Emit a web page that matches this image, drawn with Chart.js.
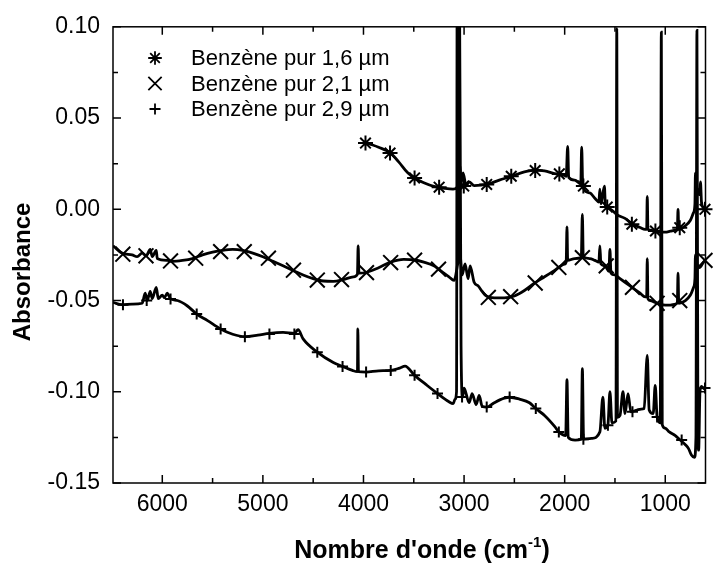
<!DOCTYPE html>
<html>
<head>
<meta charset="utf-8">
<script src="https://cdn.jsdelivr.net/npm/chart.js@4/dist/chart.umd.min.js"></script>
<style>
  html, body { margin: 0; padding: 0; background: #fff; }
  #wrap { width: 718px; height: 563px; position: relative; }
</style>
</head>
<body>
<div id="wrap"><canvas id="spectre"></canvas></div>
<script>
// Benzène pur 1,6 µm
const wn16 = [4000, 3950, 3850, 3736, 3650, 3560, 3490, 3400, 3300, 3200,
  3110, 3070, 3040, 3030, 3010, 2980, 2950, 2900, 2775, 2650,
  2531, 2400, 2293, 2200, 2100, 2000, 1985, 1970, 1960, 1900,
  1840, 1831, 1820, 1750, 1700, 1660, 1650, 1640, 1605, 1595,
  1560, 1520, 1480, 1400, 1330, 1250, 1200, 1185, 1179, 1172,
  1150, 1100, 1060, 1000, 950, 900, 880, 873, 866, 800,
  750, 720, 705, 700, 695, 690, 660, 650, 640, 620,
  600];
const abs16 = [0.037, 0.036, 0.034, 0.031, 0.026, 0.020, 0.017, 0.0145, 0.0125, 0.0115,
  0.011, 0.012, 0.024, 0.014, 0.020, 0.013, 0.015, 0.013, 0.0136, 0.016,
  0.018, 0.0205, 0.0215, 0.021, 0.0195, 0.0185, 0.018, 0.0345, 0.0175, 0.016,
  0.014, 0.034, 0.0125, 0.009, 0.006, 0.004, 0.011, 0.003, 0.0127, 0.002,
  0.0005, -0.001, -0.003, -0.005, -0.008, -0.010, -0.011, -0.011, 0.007, -0.011,
  -0.0115, -0.012, -0.0125, -0.0125, -0.012, -0.0115, -0.011, 0.0, -0.011, -0.009,
  -0.006, -0.002, 0.003, 0.020, 0.004, 0.012, 0.008, 0.015, 0.004, 0.001,
  0.0];
const mk16Wn = [3980, 3736, 3492, 3248, 3003, 2775, 2531, 2293, 2053, 1814, 1577, 1332, 1098, 856, 605];
const mk16Abs = [0.0363, 0.0308, 0.0172, 0.0121, 0.0127, 0.0136, 0.0181, 0.0212, 0.0194, 0.0127, 0.0012, -0.0082, -0.0119, -0.0101, 0.0];

// Benzène pur 2,1 µm
const wn21 = [6490, 6400, 6300, 6250, 6200, 6160, 6120, 6100, 6060, 6050,
  5950, 5900, 5800, 5700, 5600, 5500, 5400, 5300, 5200, 5100,
  5000, 4900, 4800, 4700, 4600, 4500, 4400, 4300, 4200, 4100,
  4060, 4053, 4045, 3970, 3850, 3730, 3600, 3490, 3400, 3300,
  3250, 3150, 3100, 3040, 3020, 2990, 2960, 2940, 2900, 2860,
  2820, 2780, 2700, 2600, 2500, 2400, 2300, 2200, 2100, 2000,
  1985, 1977, 1970, 1900, 1835, 1824, 1815, 1750, 1700, 1660,
  1650, 1640, 1600, 1560, 1550, 1540, 1500, 1450, 1400, 1350,
  1300, 1250, 1200, 1185, 1179, 1172, 1150, 1100, 1050, 1000,
  950, 900, 880, 873, 866, 800, 750, 720, 705, 700,
  695, 690, 660, 620, 600];
const abs21 = [-0.020, -0.024, -0.025, -0.026, -0.024, -0.0255, -0.022, -0.026, -0.0225, -0.027,
  -0.028, -0.0285, -0.028, -0.027, -0.025, -0.0235, -0.0225, -0.022, -0.0225, -0.024,
  -0.026, -0.0285, -0.031, -0.0335, -0.036, -0.038, -0.0393, -0.0395, -0.0385, -0.037,
  -0.0355, -0.020, -0.035, -0.0345, -0.032, -0.029, -0.0275, -0.0278, -0.029, -0.031,
  -0.033, -0.037, -0.039, -0.025, -0.036, -0.030, -0.038, -0.031, -0.040, -0.042,
  -0.045, -0.0475, -0.0485, -0.0485, -0.0475, -0.0445, -0.0405, -0.037, -0.0335, -0.030,
  -0.029, -0.0097, -0.028, -0.027, -0.0265, -0.0028, -0.026, -0.027, -0.028, -0.029,
  -0.020, -0.030, -0.031, -0.034, -0.022, -0.035, -0.036, -0.038, -0.040, -0.042,
  -0.044, -0.046, -0.048, -0.048, -0.027, -0.049, -0.050, -0.051, -0.052, -0.0525,
  -0.0525, -0.052, -0.051, -0.035, -0.0515, -0.050, -0.047, -0.043, -0.038, -0.025,
  -0.036, -0.030, -0.032, -0.029, -0.028];
const mk21Wn = [6392, 6162, 5918, 5668, 5420, 5185, 4945, 4696, 4459, 4218, 3970, 3730, 3492, 3254,
  2759, 2537, 2293, 2058, 1824, 1587, 1326, 1081, 856, 605];
const mk21Abs = [-0.0246, -0.0255, -0.0283, -0.0268, -0.0232, -0.0232, -0.0268, -0.0334, -0.0388, -0.0385,
  -0.0347, -0.0292, -0.0279, -0.0328, -0.0483, -0.0479, -0.0404, -0.0319, -0.0265, -0.031,
  -0.0428, -0.0515, -0.050, -0.028];

// Benzène pur 2,9 µm
const wn29 = [6490, 6400, 6300, 6200, 6170, 6150, 6120, 6100, 6060, 6040,
  6000, 5980, 5950, 5920, 5850, 5750, 5658, 5550, 5420, 5300,
  5179, 5050, 4935, 4800, 4687, 4650, 4600, 4459, 4300, 4208,
  4110, 4060, 4056, 4050, 3974, 3850, 3729, 3640, 3587, 3492,
  3380, 3264, 3150, 3108, 3090, 3075, 3068, 3060, 3048, 3030,
  3015, 3000, 2950, 2920, 2880, 2850, 2820, 2775, 2700, 2600,
  2547, 2450, 2350, 2287, 2200, 2100, 2058, 1990, 1977, 1965,
  1896, 1835, 1824, 1812, 1732, 1650, 1620, 1600, 1570, 1550,
  1530, 1490, 1482, 1475, 1450, 1420, 1400, 1370, 1342, 1280,
  1240, 1210, 1179, 1160, 1120, 1100, 1081, 1050, 1039, 1030,
  1000, 960, 900, 860, 800, 770, 740, 710, 695, 685,
  676, 668, 655, 640, 620, 600];
const abs29 = [-0.051, -0.0523, -0.052, -0.0515, -0.046, -0.050, -0.045, -0.049, -0.0428, -0.049,
  -0.047, -0.0485, -0.046, -0.049, -0.050, -0.053, -0.0574, -0.061, -0.0656, -0.0685,
  -0.0698, -0.069, -0.068, -0.0675, -0.068, -0.066, -0.071, -0.0783, -0.084, -0.0861,
  -0.0883, -0.089, -0.0656, -0.089, -0.0892, -0.0885, -0.0883, -0.087, -0.086, -0.091,
  -0.096, -0.101, -0.1055, -0.1065, -0.104, -0.100, 0.15, -0.03, 0.15, -0.075,
  -0.103, -0.098, -0.106, -0.101, -0.107, -0.102, -0.108, -0.1084, -0.106, -0.1035,
  -0.103, -0.104, -0.106, -0.1092, -0.113, -0.119, -0.122, -0.124, -0.0934, -0.125,
  -0.1265, -0.126, -0.0874, -0.126, -0.1256, -0.122, -0.103, -0.120, -0.1183, -0.100,
  -0.117, -0.116, 0.099, -0.114, -0.113, -0.100, -0.112, -0.101, -0.111, -0.110,
  -0.1095, -0.1092, -0.0801, -0.110, -0.112, -0.0965, -0.1138, -0.117, 0.097, -0.118,
  -0.120, -0.122, -0.124, -0.126, -0.129, -0.131, -0.1347, -0.136, -0.125, 0.098,
  -0.11, -0.132, -0.100, -0.097, -0.098, -0.099];
const mk29Wn = [6391, 6155, 5918, 5658, 5420, 5179, 4935, 4687, 4459, 4208, 3974, 3729, 3492, 3264,
  3020, 2775, 2547, 2287, 2058, 1814, 1570, 1326, 1081, 837, 605];
const mk29Abs = [-0.0523, -0.050, -0.0492, -0.0574, -0.0656, -0.0698, -0.0683, -0.0683, -0.0783, -0.0861,
  -0.0892, -0.0883, -0.091, -0.101, -0.1029, -0.1084, -0.1029, -0.1092, -0.122, -0.126,
  -0.1183, -0.111, -0.1138, -0.1265, -0.098];

// axes
const xMajor = [6000, 5000, 4000, 3000, 2000, 1000];
const xMinor = [5500, 4500, 3500, 2500, 1500];
const yMajor = [-0.15, -0.10, -0.05, 0, 0.05, 0.10];
const yMinor = [-0.125, -0.075, -0.025, 0.025, 0.075];
const xTitle = ["Nombre d'onde (cm", "-1", ")"];
const yTitle = 'Absorbance';

const FONT = '"Liberation Sans", Arial, sans-serif';
const pts = (xs, ys) => xs.map((x, i) => ({ x: x, y: ys[i] }));

const lineSet = (xs, ys) => ({
  data: pts(xs, ys),
  borderColor: '#000',
  borderWidth: 2.8,
  pointRadius: 0,
  cubicInterpolationMode: 'monotone',
  clip: 0,
  isLine: true
});
const markSet = (label, xs, ys, style, r) => ({
  label: label,
  data: pts(xs, ys),
  showLine: false,
  pointStyle: style,
  pointRadius: r,
  pointBorderWidth: 2,
  pointBorderColor: '#000',
  pointBackgroundColor: 'rgba(0,0,0,0)',
  clip: false
});

// frame, inward ticks, axis titles and legend
const decor = {
  id: 'decor',
  afterDraw(chart) {
    const { ctx, chartArea: a, scales: { x, y } } = chart;
    ctx.save();
    ctx.strokeStyle = '#000';
    ctx.fillStyle = '#000';
    ctx.lineWidth = 1.5;
    ctx.strokeRect(a.left, a.top, a.right - a.left, a.bottom - a.top);

    ctx.beginPath();
    const xt = (v, len) => {
      const p = x.getPixelForValue(v);
      ctx.moveTo(p, a.bottom); ctx.lineTo(p, a.bottom - len);
      ctx.moveTo(p, a.top); ctx.lineTo(p, a.top + len);
    };
    const yt = (v, len) => {
      const p = y.getPixelForValue(v);
      ctx.moveTo(a.left, p); ctx.lineTo(a.left + len, p);
      ctx.moveTo(a.right, p); ctx.lineTo(a.right - len, p);
    };
    xMajor.forEach(v => xt(v, 8));
    xMinor.forEach(v => xt(v, 5));
    yMajor.forEach(v => yt(v, 8));
    yMinor.forEach(v => yt(v, 5));
    ctx.stroke();

    // y title
    ctx.save();
    ctx.font = 'bold 24px ' + FONT;
    ctx.textAlign = 'center';
    ctx.textBaseline = 'middle';
    ctx.translate(23, 272);
    ctx.rotate(-Math.PI / 2);
    ctx.fillText(yTitle, 0, 0);
    ctx.restore();

    // x title with superscript
    const big = 'bold 25px ' + FONT, small = 'bold 15px ' + FONT;
    ctx.textAlign = 'left';
    ctx.textBaseline = 'alphabetic';
    ctx.font = big;
    const w0 = ctx.measureText(xTitle[0]).width, w2 = ctx.measureText(xTitle[2]).width;
    ctx.font = small;
    const w1 = ctx.measureText(xTitle[1]).width;
    let tx = 422 - (w0 + w1 + w2) / 2;
    const base = 558;
    ctx.font = big; ctx.fillText(xTitle[0], tx, base); tx += w0;
    ctx.font = small; ctx.fillText(xTitle[1], tx, base - 11); tx += w1;
    ctx.font = big; ctx.fillText(xTitle[2], tx, base);

    // legend
    ctx.font = '22px ' + FONT;
    ctx.textBaseline = 'middle';
    const sizes = { star: 6.8, crossRot: 9.4, cross: 5.5 };
    let row = 0;
    chart.data.datasets.forEach(ds => {
      if (ds.isLine) return;
      const cy = 58 + row * 25.5;
      ctx.lineWidth = 1.8;
      Chart.helpers.drawPoint(ctx, { pointStyle: ds.pointStyle, rotation: 0, radius: sizes[ds.pointStyle], borderWidth: 1.8 }, 155, cy);
      ctx.fillText(ds.label, 191, cy + 1);
      row++;
    });
    ctx.restore();
  }
};

new Chart(document.getElementById('spectre'), {
  type: 'line',
  data: {
    datasets: [
      lineSet(wn16, abs16),
      lineSet(wn21, abs21),
      lineSet(wn29, abs29),
      markSet('Benzène pur 1,6 µm', mk16Wn, mk16Abs, 'star', 7.5),
      markSet('Benzène pur 2,1 µm', mk21Wn, mk21Abs, 'crossRot', 10.5),
      markSet('Benzène pur 2,9 µm', mk29Wn, mk29Abs, 'cross', 5.5)
    ]
  },
  options: {
    responsive: true,
    maintainAspectRatio: false,
    animation: false,
    layout: { padding: { left: 0, top: 25, right: 2, bottom: 0 } },
    plugins: {
      legend: { display: false },
      tooltip: { enabled: false }
    },
    scales: {
      x: {
        type: 'linear',
        reverse: true,
        min: 600,
        max: 6490,
        grid: { display: false, drawTicks: false },
        border: { display: false },
        afterBuildTicks: s => { s.ticks = xMajor.map(v => ({ value: v })); },
        afterFit: s => { s.height = 80; },
        ticks: {
          autoSkip: false,
          maxRotation: 0,
          padding: 8,
          color: '#000',
          font: { family: FONT, size: 23 },
          callback: v => String(v)
        }
      },
      y: {
        min: -0.15,
        max: 0.10,
        grid: { display: false, drawTicks: false },
        border: { display: false },
        afterBuildTicks: s => { s.ticks = yMajor.map(v => ({ value: v })); },
        afterFit: s => { s.width = 113; },
        ticks: {
          autoSkip: false,
          padding: 13,
          color: '#000',
          font: { family: FONT, size: 23 },
          callback: v => v.toFixed(2)
        }
      }
    }
  },
  plugins: [decor]
});
</script>
</body>
</html>
